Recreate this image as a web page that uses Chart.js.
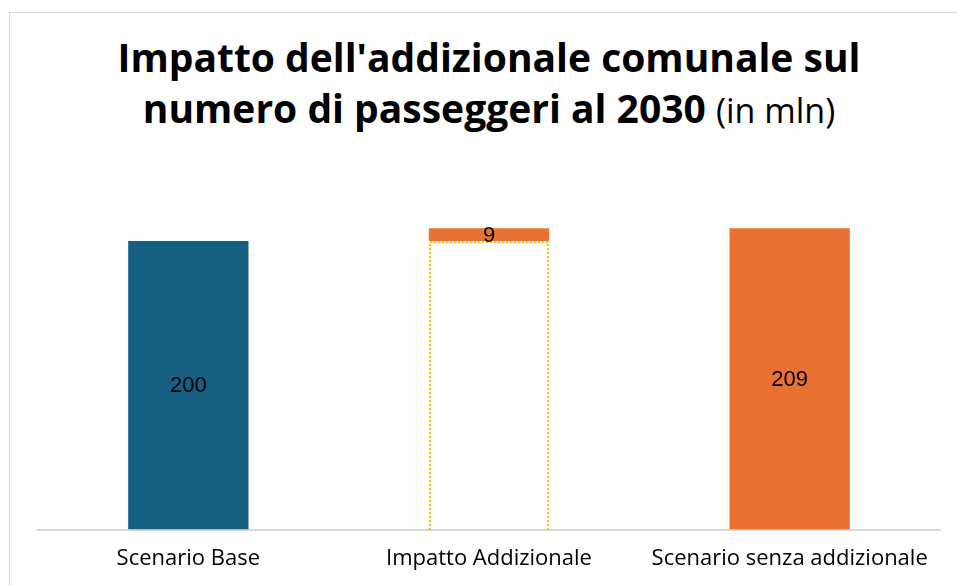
<!DOCTYPE html>
<html lang="it">
<head>
<meta charset="utf-8">
<title>Impatto dell'addizionale comunale</title>
<script src="https://cdn.jsdelivr.net/npm/chart.js@4.4.1/dist/chart.umd.min.js"></script>
<style>
  html, body { margin: 0; padding: 0; background: #fff; }
  #wrap { position: relative; width: 957px; height: 585px; overflow: hidden; }
  #frame {
    position: absolute; left: 9px; top: 12px; width: 970px; height: 600px;
    border: 1px solid #d9d9d9; box-sizing: border-box;
  }
  #title {
    position: absolute; left: 0; top: 31px; width: 978px; text-align: center;
    font-family: 'Open Sans', 'Liberation Sans', Arial, sans-serif; font-size: 39px; line-height: 51px;
    color: #000; font-weight: bold;
  }
  #title .unit { font-weight: normal; font-size: 34px; }
  #chart { position: absolute; left: 0; top: 0; }
</style>
</head>
<body>
<div id="wrap">
  <div id="frame"></div>
  <div id="title">Impatto dell'addizionale comunale sul<br>numero di passeggeri al 2030 <span class="unit">(in mln)</span></div>
  <canvas id="chart" width="957" height="588"></canvas>
</div>
<script>
(function () {
  'use strict';

  const categories = ['Scenario Base', 'Impatto Addizionale', 'Scenario senza addizionale'];
  const barStart = [0, 200, 0];
  const barEnd = [200, 209, 209];
  const labelValues = [200, 9, 209];
  const ghostBase = [null, 200, null];   // invisible support under the increment
  const barColors = ['#156082', '#E97132', '#E97132'];

  const mainData = categories.map((c, i) => [barStart[i], barEnd[i]]);
  const ghostData = ghostBase.map((v) => (v === null ? null : [0, v]));

  const FONT = '"Open Sans", "Liberation Sans", Arial, sans-serif';

  const valueLabels = {
    id: 'valueLabels',
    afterDatasetsDraw(chart) {
      const ctx = chart.ctx;
      const meta = chart.getDatasetMeta(0);
      ctx.save();
      ctx.font = '22px "Liberation Sans", Arial, sans-serif';
      ctx.fillStyle = '#000';
      ctx.textAlign = 'center';
      ctx.textBaseline = 'middle';
      meta.data.forEach((bar, i) => {
        const p = bar.getProps(['x', 'y', 'base'], true);
        ctx.fillText(String(labelValues[i]), p.x, (p.y + p.base) / 2 + 1);
      });
      ctx.restore();
    }
  };

  const dottedGhost = {
    id: 'dottedGhost',
    afterDatasetsDraw(chart) {
      const ctx = chart.ctx;
      const meta = chart.getDatasetMeta(1);
      ctx.save();
      ctx.strokeStyle = '#FFC000';
      ctx.lineWidth = 2;
      ctx.setLineDash([2, 2]);
      meta.data.forEach((bar, i) => {
        if (ghostBase[i] === null) return;
        const p = bar.getProps(['x', 'y', 'base', 'width'], true);
        const l = Math.round(p.x - p.width / 2) + 1;
        const r = Math.round(p.x + p.width / 2) - 1;
        const t = Math.round(p.y) + 1;
        const b = Math.round(p.base);
        ctx.beginPath();
        ctx.moveTo(l, b);
        ctx.lineTo(l, t);
        ctx.lineTo(r, t);
        ctx.lineTo(r, b);
        ctx.stroke();
      });
      ctx.restore();
    }
  };

  new Chart(document.getElementById('chart').getContext('2d'), {
    type: 'bar',
    data: {
      labels: categories,
      datasets: [
        {
          label: 'Valore',
          data: mainData,
          backgroundColor: barColors,
          borderWidth: 0,
          grouped: false,
          barPercentage: 0.4,
          categoryPercentage: 1
        },
        {
          label: 'Base',
          data: ghostData,
          backgroundColor: 'rgba(0,0,0,0)',
          borderWidth: 0,
          grouped: false,
          barPercentage: 0.4,
          categoryPercentage: 1
        }
      ]
    },
    options: {
      responsive: false,
      animation: false,
      layout: { padding: { left: 38, right: 17, top: 169, bottom: 0 } },
      scales: {
        x: {
          grid: { display: false, drawTicks: false },
          border: { display: true, color: '#d9d9d9', width: 2 },
          ticks: {
            color: '#000',
            padding: 16,
            font: { family: FONT, size: 22 }
          }
        },
        y: {
          display: false,
          min: 0,
          max: 250
        }
      },
      plugins: {
        legend: { display: false },
        tooltip: { enabled: false }
      }
    },
    plugins: [dottedGhost, valueLabels]
  });
})();
</script>
</body>
</html>
